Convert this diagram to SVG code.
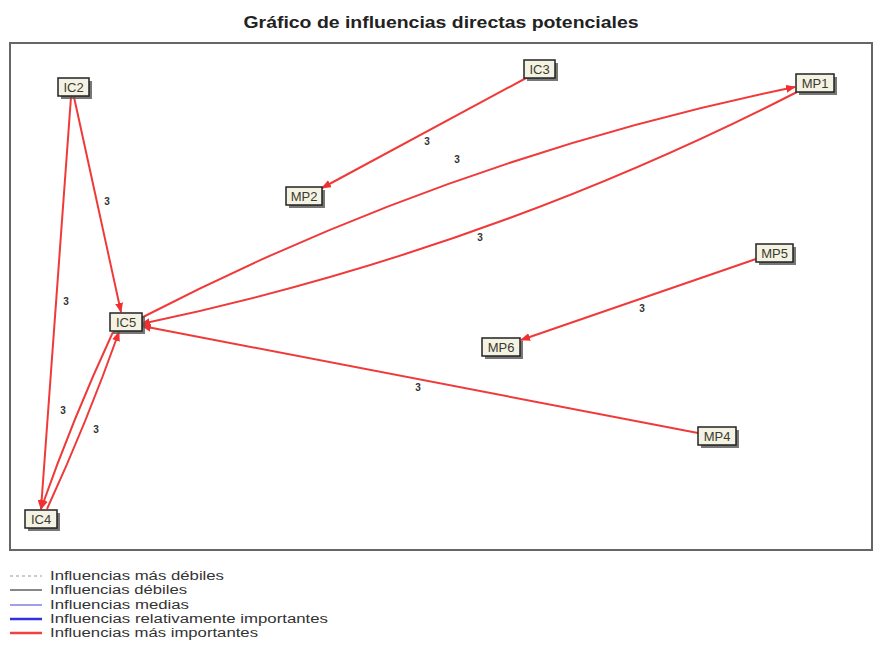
<svg xmlns="http://www.w3.org/2000/svg" width="876" height="663" viewBox="0 0 876 663">
<defs>
<marker id="ah" markerWidth="10" markerHeight="8" refX="9" refY="4" orient="auto" markerUnits="userSpaceOnUse">
<path d="M0,0 L10,4 L0,8 z" fill="#f03030"/>
</marker>
<style>
.title{font-family:"Liberation Sans",Arial,sans-serif;font-weight:bold;font-size:16px;fill:#222}
.frame{fill:none;stroke:#666;stroke-width:2}
.shadow{fill:#555;opacity:0.8}
.box{fill:#f4f2e2;stroke:#222;stroke-width:1.5}
.nt{font-family:"Liberation Sans",Arial,sans-serif;font-size:13px;fill:#3a3a30;text-anchor:middle}
.e{fill:none;stroke:#f03a3a;stroke-width:2;marker-end:url(#ah)}
.lb{font-family:"Liberation Sans",Arial,sans-serif;font-size:10px;font-weight:bold;fill:#333;text-anchor:middle}
.lg{font-family:"Liberation Sans",Arial,sans-serif;font-size:12.5px;fill:#333}
</style>
</defs>
<rect width="876" height="663" fill="#fff"/>
<text class="title" x="441" y="28" text-anchor="middle" textLength="395" lengthAdjust="spacingAndGlyphs">Gráfico de influencias directas potenciales</text>
<rect class="frame" x="10" y="43" width="862" height="507"/>

<g id="connectors">
<line class="e" x1="74" y1="97" x2="121" y2="312"/>
<line class="e" x1="71" y1="97" x2="41" y2="509"/>
<path class="e" d="M47,509 Q87,422 119,332"/>
<path class="e" d="M113,332 Q73,418 41,509"/>
<line class="e" x1="528" y1="77" x2="322" y2="188"/>
<path class="e" d="M141,318 Q452,157 795,87"/>
<path class="e" d="M797,92 Q484,252 141,324"/>
<line class="e" x1="756" y1="259" x2="521" y2="340"/>
<line class="e" x1="698" y1="433" x2="142" y2="326"/>
<text class="lb" x="107" y="205">3</text>
<text class="lb" x="66" y="305">3</text>
<text class="lb" x="63" y="414">3</text>
<text class="lb" x="96" y="433">3</text>
<text class="lb" x="427" y="145">3</text>
<text class="lb" x="457" y="163">3</text>
<text class="lb" x="480" y="241">3</text>
<text class="lb" x="642" y="312">3</text>
<text class="lb" x="418" y="391">3</text>
</g>

<g id="IC2"><rect class="shadow" x="61" y="81" width="31" height="18"/><rect class="box" x="58" y="78" width="31" height="18"/><text class="nt" x="73.5" y="92">IC2</text></g>
<g id="IC3"><rect class="shadow" x="527" y="63" width="31" height="18"/><rect class="box" x="524" y="60" width="31" height="18"/><text class="nt" x="539.5" y="74">IC3</text></g>
<g id="MP1"><rect class="shadow" x="799" y="77" width="38" height="18"/><rect class="box" x="796" y="74" width="38" height="18"/><text class="nt" x="815" y="88">MP1</text></g>
<g id="MP2"><rect class="shadow" x="289" y="190" width="36" height="18"/><rect class="box" x="286" y="187" width="36" height="18"/><text class="nt" x="304" y="201">MP2</text></g>
<g id="MP5"><rect class="shadow" x="759" y="247" width="37" height="18"/><rect class="box" x="756" y="244" width="37" height="18"/><text class="nt" x="774.5" y="258">MP5</text></g>
<g id="IC5"><rect class="shadow" x="113" y="316" width="32" height="18"/><rect class="box" x="110" y="313" width="32" height="18"/><text class="nt" x="126" y="327">IC5</text></g>
<g id="MP6"><rect class="shadow" x="485" y="341" width="38" height="18"/><rect class="box" x="482" y="338" width="38" height="18"/><text class="nt" x="501" y="352">MP6</text></g>
<g id="MP4"><rect class="shadow" x="701" y="430" width="38" height="18"/><rect class="box" x="698" y="427" width="38" height="18"/><text class="nt" x="717" y="441">MP4</text></g>
<g id="IC4"><rect class="shadow" x="28" y="513" width="32" height="18"/><rect class="box" x="25" y="510" width="32" height="18"/><text class="nt" x="41" y="524">IC4</text></g>

<g id="legend">
<line x1="10" y1="576" x2="42" y2="576" stroke="#bbb" stroke-width="1.5" stroke-dasharray="3,3"/>
<line x1="10" y1="590" x2="42" y2="590" stroke="#888" stroke-width="2"/>
<line x1="10" y1="605" x2="42" y2="605" stroke="#8080e0" stroke-width="1.5"/>
<line x1="10" y1="619" x2="42" y2="619" stroke="#3030e0" stroke-width="2.5"/>
<line x1="10" y1="633" x2="42" y2="633" stroke="#f04040" stroke-width="2.5"/>
<text class="lg" x="50" y="580" textLength="174" lengthAdjust="spacingAndGlyphs">Influencias más débiles</text>
<text class="lg" x="50" y="594" textLength="137" lengthAdjust="spacingAndGlyphs">Influencias débiles</text>
<text class="lg" x="50" y="609" textLength="139" lengthAdjust="spacingAndGlyphs">Influencias medias</text>
<text class="lg" x="50" y="623" textLength="278" lengthAdjust="spacingAndGlyphs">Influencias relativamente importantes</text>
<text class="lg" x="50" y="637" textLength="208" lengthAdjust="spacingAndGlyphs">Influencias más importantes</text>
</g>
</svg>
